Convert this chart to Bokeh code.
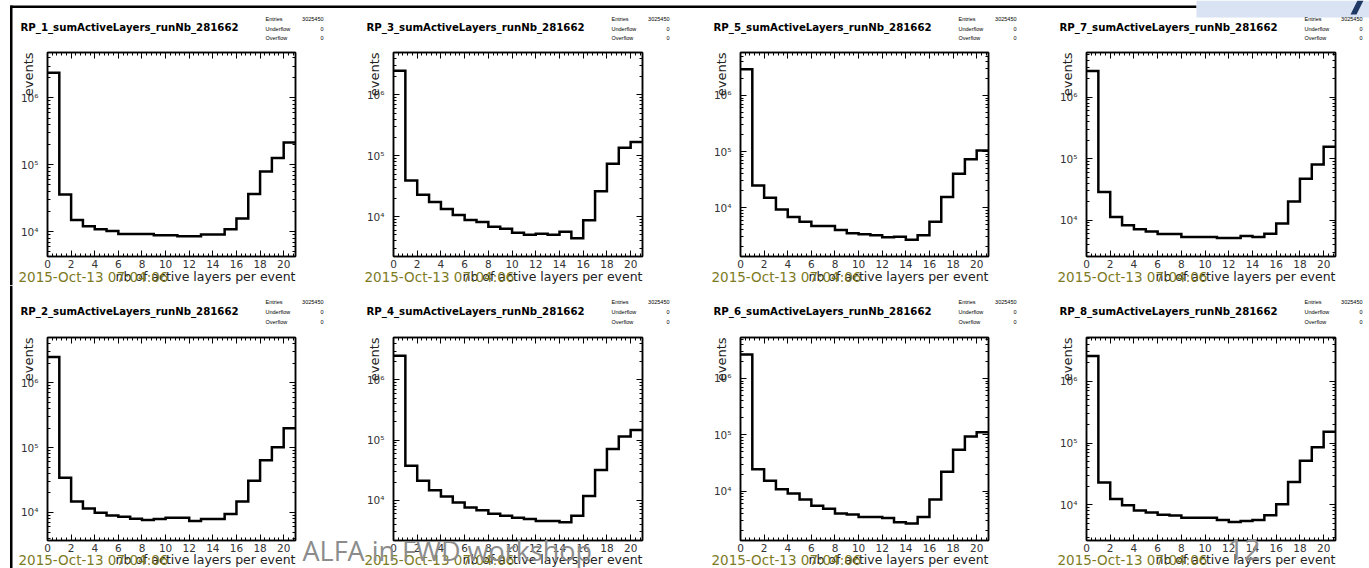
import math
from bokeh.plotting import figure
from bokeh.models import (Range1d, LinearAxis, LogAxis, SingleIntervalTicker, LogTicker,
                          CustomJSTickFormatter, Label, BoxAnnotation, PolyAnnotation, GridBox)
from bokeh.embed import file_html
from bokeh.resources import INLINE

# ---------------- data ----------------
bin_edges = [0, 1, 2, 3, 4, 5, 6, 7, 8, 9, 10, 11, 12, 13, 14, 15, 16, 17, 18, 19, 20, 21]
run_number = "281662"
entries = 3025450
underflow = 0
overflow = 0
date_stamp = "2015-Oct-13 07:04:06"
x_title = "nb of active layers per event"
y_title = "events"
slide_footer = "ALFA in FWD workshop"
slide_page = "12"

rp1 = [2.39e6, 3.6e4, 1.5e4, 1.2e4, 1.09e4, 1.02e4, 9.2e3, 9.2e3, 9.2e3, 8.8e3, 8.8e3,
       8.5e3, 8.5e3, 9.1e3, 9.1e3, 1.09e4, 1.57e4, 3.65e4, 7.96e4, 1.26e5, 2.16e5]
rp3 = [2.5e6, 3.9e4, 2.28e4, 1.73e4, 1.33e4, 1.06e4, 8.8e3, 8.1e3, 6.8e3, 6.3e3, 5.4e3,
       5.0e3, 5.2e3, 5.0e3, 5.6e3, 4.4e3, 8.7e3, 2.6e4, 7.4e4, 1.35e5, 1.69e5]
rp5 = [2.92e6, 2.48e4, 1.5e4, 9.2e3, 6.8e3, 5.6e3, 4.67e3, 4.67e3, 3.97e3, 3.47e3, 3.33e3,
       3.2e3, 2.94e3, 3.02e3, 2.68e3, 3.2e3, 5.6e3, 1.55e4, 4.0e4, 7.3e4, 1.04e5]
rp7 = [2.66e6, 2.87e4, 1.12e4, 8.2e3, 7.1e3, 6.5e3, 5.9e3, 5.9e3, 5.3e3, 5.3e3, 5.3e3,
       5.1e3, 5.1e3, 5.5e3, 5.3e3, 6.0e3, 8.8e3, 2.0e4, 4.7e4, 8.0e4, 1.56e5]
rp2 = [2.48e6, 3.43e4, 1.48e4, 1.15e4, 9.9e3, 9.0e3, 8.6e3, 8.0e3, 7.65e3, 7.9e3, 8.3e3,
       8.3e3, 7.4e3, 7.9e3, 7.9e3, 9.5e3, 1.48e4, 3.09e4, 6.35e4, 1.01e5, 1.99e5]
rp4 = [2.52e6, 3.77e4, 2.12e4, 1.47e4, 1.16e4, 9.2e3, 7.6e3, 6.9e3, 6.0e3, 5.56e3, 5.15e3,
       4.9e3, 4.55e3, 4.55e3, 4.33e3, 5.56e3, 1.18e4, 3.2e4, 7.1e4, 1.15e5, 1.47e5]
rp6 = [2.67e6, 2.43e4, 1.52e4, 1.08e4, 9.1e3, 7.05e3, 5.47e3, 4.84e3, 4.0e3, 3.85e3, 3.46e3,
       3.46e3, 3.33e3, 2.79e3, 2.65e3, 3.46e3, 7.05e3, 2.21e4, 5.43e4, 9.3e4, 1.11e5]
rp8 = [2.56e6, 2.3e4, 1.25e4, 9.9e3, 8.1e3, 7.5e3, 6.9e3, 6.7e3, 6.2e3, 6.2e3, 6.2e3,
       5.7e3, 5.3e3, 5.5e3, 5.7e3, 6.77e3, 1.02e4, 2.35e4, 5.2e4, 8.6e4, 1.52e5]

panel_names = [["RP_1", "RP_3", "RP_5", "RP_7"], ["RP_2", "RP_4", "RP_6", "RP_8"]]
panel_counts = [[rp1, rp3, rp5, rp7], [rp2, rp4, rp6, rp8]]

# ---------------- geometry (slide pixels) ----------------
SLIDE_W = 1369
COL_X = [0, 345, 690, 1035]
COL_W = [345, 345, 345, 334]
FRAME_L = [47, 48, 50, 51]
FRAME_W = [248, 249, 248, 249]
ROW_H = [285, 283]
FRAME_T = 52
FRAME_H = [204, 203]
TITLE_Y = [27, 26]
STATS_Y = [[18.3, 28.0, 37.7], [16.7, 26.0, 36.0]]
DATE_Y = [276, 274]

FONT = "DejaVu Sans"
SUP_CODE = """
const s = "\u2070\u00b9\u00b2\u00b3\u2074\u2075\u2076\u2077\u2078\u2079";
const e = Math.round(Math.log10(tick));
let out = "";
for (const c of String(e)) { out += (c === "-") ? "\u207b" : s[parseInt(c)]; }
return "10" + out;
"""


def no_align(fig):
    try:
        fig.frame_align = False
    except Exception:
        pass


def blank():
    return CustomJSTickFormatter(code="return ''")


def style_axis(ax):
    ax.axis_line_color = "black"
    ax.axis_line_width = 1.5
    ax.major_tick_in = 6
    ax.major_tick_out = 0
    ax.minor_tick_in = 3
    ax.minor_tick_out = 0
    ax.major_tick_line_color = "black"
    ax.minor_tick_line_color = "black"
    ax.major_tick_line_width = 1
    ax.minor_tick_line_width = 1
    ax.major_label_text_font = FONT
    ax.major_label_text_font_size = "10.5px"
    ax.major_label_text_color = "#333333"


def make_hist(ri, ci):
    counts = panel_counts[ri][ci]
    w, h = COL_W[ci], ROW_H[ri]
    fl, fw, ft, fh = FRAME_L[ci], FRAME_W[ci], FRAME_T, FRAME_H[ri]
    lo = 0.5 * min(counts)
    hi = 2.0 * max(counts)
    p = figure(width=w, height=h, title=None, y_axis_type="log",
               x_range=Range1d(bin_edges[0], bin_edges[-1]), y_range=Range1d(lo, hi),
               output_backend="svg", toolbar_location=None,
               min_border_left=fl, min_border_right=w - fl - fw,
               min_border_top=ft, min_border_bottom=h - ft - fh)
    no_align(p)
    p.xgrid.visible = False
    p.ygrid.visible = False
    p.outline_line_color = "black"
    p.outline_line_width = 1.5
    p.background_fill_color = "white"
    p.border_fill_color = "white"

    p.xaxis.ticker = SingleIntervalTicker(interval=2, num_minor_ticks=5)
    p.yaxis.ticker = LogTicker(num_minor_ticks=10)
    p.yaxis.formatter = CustomJSTickFormatter(code=SUP_CODE)
    p.xaxis.major_label_standoff = 3
    p.yaxis.major_label_standoff = 9
    style_axis(p.xaxis[0])
    style_axis(p.yaxis[0])

    top = LinearAxis(ticker=SingleIntervalTicker(interval=2, num_minor_ticks=5), formatter=blank())
    style_axis(top)
    p.add_layout(top, "above")
    right = LogAxis(ticker=LogTicker(num_minor_ticks=10), formatter=blank())
    style_axis(right)
    p.add_layout(right, "right")

    p.step(x=bin_edges, y=counts + [counts[-1]], mode="after",
           line_color="black", line_width=2.5, line_join="miter")
    return p


def make_text_layer(ri):
    """Transparent full-row layer (frame = whole row) carrying all the texts outside the frames."""
    h = ROW_H[ri]
    t = figure(width=SLIDE_W, height=h, title=None, x_range=Range1d(0, SLIDE_W),
               y_range=Range1d(h, 0), output_backend="svg", toolbar_location=None,
               x_axis_location=None, y_axis_location=None,
               min_border_left=0, min_border_right=0, min_border_top=0, min_border_bottom=0)
    no_align(t)
    t.xgrid.visible = False
    t.ygrid.visible = False
    t.outline_line_color = None
    t.background_fill_alpha = 0
    t.border_fill_alpha = 0

    def lab(x, y, text, **kw):
        t.add_layout(Label(x=x, y=y, text=text, **kw))

    def box(x0, x1, y0, y1, color):
        t.add_layout(BoxAnnotation(left=x0, right=x1, top=y0, bottom=y1,
                                   fill_color=color, fill_alpha=1.0, line_color=None))

    # slide decorations
    if ri == 0:
        box(10, 1196, 5, 7.5, "black")
        box(1196, SLIDE_W, 0, 17, "#dae3f3")
        t.add_layout(PolyAnnotation(xs=[1357, 1363, 1356, 1350], ys=[0, 0, 14, 14],
                                    fill_color="#1f3864", fill_alpha=1.0, line_color=None))
        box(9.5, 12, 5, h, "black")
    else:
        box(9.5, 12, 0, h, "black")

    for ci in range(4):
        name = panel_names[ri][ci]
        fx = COL_X[ci] + FRAME_L[ci]
        fw = FRAME_W[ci]
        lab(fx - 27, TITLE_Y[ri], f"{name}_sumActiveLayers_runNb_{run_number}",
            text_font=FONT, text_font_style="bold", text_font_size="10.2px",
            text_baseline="middle", text_color="black")
        stats = [("Entries", str(entries)), ("Underflow", str(underflow)), ("Overflow", str(overflow))]
        for (k, v), yy in zip(stats, STATS_Y[ri]):
            lab(fx + 218, yy, k, text_font="Liberation Sans", text_font_size="5.5px",
                text_baseline="middle", text_color="black")
            lab(fx + 276, yy, v, text_font="Liberation Sans", text_font_size="5.5px",
                text_baseline="middle", text_align="right", text_color="black")
        lab(fx - 19, FRAME_T, y_title, angle=math.pi / 2, text_align="right",
            text_baseline="alphabetic", text_font=FONT, text_font_size="13px",
            text_color="#222222")
        lab(fx + fw, DATE_Y[ri], x_title, text_font=FONT, text_font_size="12.5px",
            text_align="right", text_baseline="alphabetic", text_color="#222222")
        lab(fx - 29, DATE_Y[ri], date_stamp, text_font=FONT, text_font_size="13.5px",
            text_baseline="alphabetic", text_color="#7d7a1f")

    if ri == 1:
        lab(302, 265, slide_footer, text_font="Open Sans", text_font_size="27px",
            text_baseline="alphabetic", text_color="#8c8c8c")
        lab(1227, 264, slide_page, text_font="Open Sans", text_font_size="29px",
            text_baseline="middle", text_color="#8c8c8c")
    return t


children = []
for ri in range(2):
    for ci in range(4):
        children.append((make_hist(ri, ci), ri, ci))
for ri in range(2):
    children.append((make_text_layer(ri), ri, 0, 1, 4))

layout = GridBox(children=children, spacing=0)

with open("out.html", "w", encoding="utf-8") as f:
    f.write(file_html(layout, INLINE))
